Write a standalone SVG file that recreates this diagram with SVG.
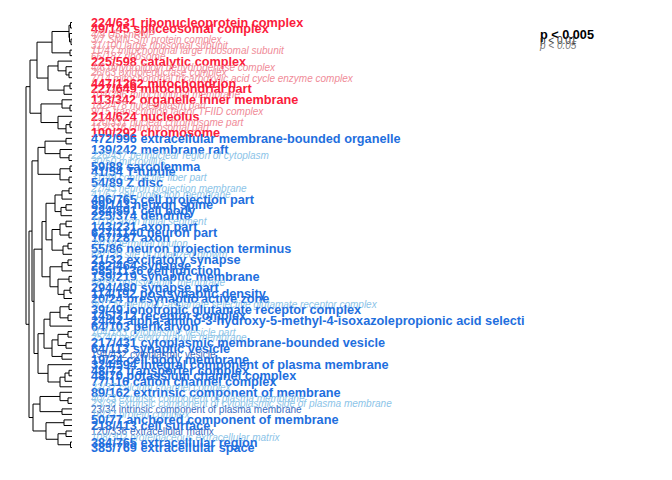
<svg xmlns="http://www.w3.org/2000/svg" width="672" height="480" viewBox="0 0 672 480">
<style>
text{font-family:"Liberation Sans",Arial,sans-serif;dominant-baseline:central}
.b{font-size:12.7px;font-weight:bold}
.i{font-size:10px;font-style:italic}
.p{font-size:10px}
.rb{fill:#fb1c3c}.ri{fill:#f08b98}
.bb{fill:#1f6fde}.bi{fill:#8cc4e8}.bp{fill:#3b6cc2}
#connectors path{fill:none;stroke:#000;stroke-width:1}
</style>
<rect width="672" height="480" fill="#fff"/>
<g id="connectors">
<path d="M72 22.5H70.5V28H72"/><path d="M72 39.1H71V44.6H72"/><path d="M72 33.5H69.5V41.85H71"/><path d="M70.5 25.25H69V37.68H69.5"/><path d="M72 50.1H70V55.6H72"/><path d="M69 31.47H52V52.85H70"/>
<path d="M72 72.2H69V77.7H72"/><path d="M72 66.7H66V74.95H69"/><path d="M72 61.1H58V70.83H66"/><path d="M72 83.2H70V88.7H72"/><path d="M70 85.95H64V94.3H72"/><path d="M58 65.97H48V90.13H64"/>
<path d="M52 42.16H37V78.05H48"/>
<path d="M72 105.3H70V110.8H72"/><path d="M72 99.8H62V108.05H70"/><path d="M72 121.9H70V127.4H72"/><path d="M70 124.65H66V132.9H72"/><path d="M72 116.3H58V128.78H66"/><path d="M62 103.93H41V122.54H58"/>
<path d="M37 60.1H30V113.23H41"/>
<path d="M72 138.4H66V143.9H72"/><path d="M72 155H69V160.5H72"/><path d="M72 149.5H60V157.75H69"/><path d="M66 141.15H45V153.63H60"/>
<path d="M72 166H70V171.5H72"/><path d="M72 177.1H69V182.6H72"/><path d="M70 168.75H60V179.85H69"/><path d="M45 147.39H38V174.3H60"/>
<path d="M72 188.1H69V193.6H72"/><path d="M69 190.85H62V199.1H72"/><path d="M72 204.7H66V210.2H72"/><path d="M66 207.45H61V215.7H72"/><path d="M62 194.98H55V211.58H61"/>
<path d="M72 221.2H66V226.7H72"/><path d="M72 232.3H69V237.8H72"/><path d="M66 223.95H60V235.05H69"/><path d="M72 243.3H68V248.8H72"/><path d="M68 246.05H63V254.3H72"/><path d="M60 229.5H52V250.18H63"/>
<path d="M55 203.28H46V239.84H52"/>
<path d="M72 259.9H68V265.4H72"/><path d="M68 262.65H62V270.9H72"/><path d="M72 276.4H69V281.9H72"/><path d="M72 287.5H70V293H72"/><path d="M70 290.25H64V298.5H72"/><path d="M69 279.15H58V294.38H64"/><path d="M62 266.78H50V286.77H58"/>
<path d="M46 221.56H42V276.78H50"/>
<path d="M72 304H69V309.5H72"/><path d="M72 315.1H68V320.6H72"/><path d="M69 306.75H60V317.85H68"/><path d="M60 312.3H50V326.1H72"/>
<path d="M72 331.6H68V337.1H72"/><path d="M72 342.7H66V348.2H72"/><path d="M68 334.35H58V345.45H66"/><path d="M72 353.7H62V359.2H72"/><path d="M58 339.9H52V356.45H62"/>
<path d="M50 319.2H44V348.18H52"/>
<path d="M72 370.3H69V375.8H72"/><path d="M69 373.05H65V381.3H72"/><path d="M65 377.18H60V386.8H72"/><path d="M72 364.7H48V381.99H60"/>
<path d="M44 333.69H38V373.35H48"/><path d="M42 249.17H34V353.52H38"/><path d="M38 160.85H32V301.35H34"/>
<path d="M72 397.9H68V403.4H72"/><path d="M72 392.3H60V400.65H68"/><path d="M72 408.9H62V414.4H72"/><path d="M60 396.48H40V411.65H62"/>
<path d="M72 419.9H64V425.5H72"/><path d="M72 431H66V436.5H72"/><path d="M72 442H70.5V447.5H72"/><path d="M66 433.75H58V444.75H70.5"/><path d="M64 422.7H46V439.25H58"/>
<path d="M40 404.07H33V430.98H46"/><path d="M32 231.1H29V417.53H33"/><path d="M30 86.67H26V324.32H29"/>
</g>
<g id="n0"><text class="b rb" x="91" y="23">224/631 ribonucleoprotein complex</text></g>
<g id="n1"><text class="b rb" x="91" y="28.5">49/145 spliceosomal complex</text></g>
<g id="n2"><text class="i ri" x="91" y="34">4/9 U5 snRNP</text></g>
<g id="n3"><text class="i ri" x="91" y="39.6">3/7 SMN-Sm protein complex</text></g>
<g id="n4"><text class="i ri" x="91" y="45.1">31/100 large ribosomal subunit</text></g>
<g id="n5"><text class="i ri" x="91" y="50.6">11/47 mitochondrial large ribosomal subunit</text></g>
<g id="n6"><text class="i ri" x="91" y="56.1">66/187 ribosome</text></g>
<g id="n7"><text class="b rb" x="91" y="61.6">225/598 catalytic complex</text></g>
<g id="n8"><text class="i ri" x="91" y="67.2">4/6 dihydrolipoyl dehydrogenase complex</text></g>
<g id="n9"><text class="i ri" x="91" y="72.7">26/63 oxidoreductase complex</text></g>
<g id="n10"><text class="i ri" x="91" y="78.2">7/14 mitochondrial tricarboxylic acid cycle enzyme complex</text></g>
<g id="n11"><text class="b rb" x="91" y="83.7">447/1262 mitochondrion</text></g>
<g id="n12"><text class="b rb" x="91" y="89.2">227/649 mitochondrial part</text></g>
<g id="n13"><text class="i ri" x="91" y="94.8">104/296 mitochondrial membrane</text></g>
<g id="n14"><text class="b rb" x="91" y="100.3">113/342 organelle inner membrane</text></g>
<g id="n15"><text class="i ri" x="91" y="105.8">182/478 nucleoplasm part</text></g>
<g id="n16"><text class="i ri" x="91" y="111.3">9/15 transcription factor TFIID complex</text></g>
<g id="n17"><text class="b rb" x="91" y="116.8">214/624 nucleolus</text></g>
<g id="n18"><text class="i ri" x="91" y="122.4">120/331 nuclear chromosome part</text></g>
<g id="n19"><text class="i ri" x="91" y="127.9">112/316 chromosomal part</text></g>
<g id="n20"><text class="b rb" x="91" y="133.4">100/292 chromosome</text></g>
<g id="n21"><text class="b bb" x="91" y="138.9">472/996 extracellular membrane-bounded organelle</text></g>
<g id="n23"><text class="b bb" x="91" y="150">139/242 membrane raft</text></g>
<g id="n24"><text class="i bi" x="91" y="155.5">226/437 perinuclear region of cytoplasm</text></g>
<g id="n25"><text class="i bi" x="91" y="161">30/50 microvillus</text></g>
<g id="n26"><text class="b bb" x="91" y="166.5">59/88 sarcolemma</text></g>
<g id="n27"><text class="b bb" x="91" y="172">41/54 T-tubule</text></g>
<g id="n28"><text class="i bi" x="91" y="177.6">31/49 contractile fiber part</text></g>
<g id="n29"><text class="b bb" x="91" y="183.1">54/89 Z disc</text></g>
<g id="n30"><text class="i bi" x="91" y="188.6">27/43 neuron projection membrane</text></g>
<g id="n31"><text class="i bi" x="91" y="194.1">41/67 cell projection membrane</text></g>
<g id="n32"><text class="b bb" x="91" y="199.6">406/765 cell projection part</text></g>
<g id="n33"><text class="b bb" x="91" y="205.2">89/143 neuron spine</text></g>
<g id="n34"><text class="b bb" x="91" y="210.7">284/591 cell body</text></g>
<g id="n35"><text class="b bb" x="91" y="216.2">225/374 dendrite</text></g>
<g id="n36"><text class="i bi" x="91" y="221.7">11/16 axon initial segment</text></g>
<g id="n37"><text class="b bb" x="91" y="227.2">143/231 axon part</text></g>
<g id="n38"><text class="b bb" x="91" y="232.8">627/1140 neuron part</text></g>
<g id="n39"><text class="b bb" x="91" y="238.3">167/287 axon</text></g>
<g id="n40"><text class="i bi" x="91" y="243.8">24/39 terminal bouton</text></g>
<g id="n41"><text class="b bb" x="91" y="249.3">55/86 neuron projection terminus</text></g>
<g id="n42"><text class="i bi" x="91" y="254.8">68/120 site of polarized growth</text></g>
<g id="n43"><text class="b bb" x="91" y="260.4">21/32 excitatory synapse</text></g>
<g id="n44"><text class="b bb" x="91" y="265.9">282/464 synapse</text></g>
<g id="n45"><text class="b bb" x="91" y="271.4">585/1136 cell junction</text></g>
<g id="n46"><text class="b bb" x="91" y="276.9">139/219 synaptic membrane</text></g>
<g id="n47"><text class="i bi" x="91" y="282.4">58/95 postsynaptic membrane</text></g>
<g id="n48"><text class="b bb" x="91" y="288">294/480 synapse part</text></g>
<g id="n49"><text class="b bb" x="91" y="293.5">114/192 postsynaptic density</text></g>
<g id="n50"><text class="b bb" x="91" y="299">20/24 presynaptic active zone</text></g>
<g id="n51"><text class="i bi" x="91" y="304.5">9/12 N-methyl-D-aspartate selective glutamate receptor complex</text></g>
<g id="n52"><text class="b bb" x="91" y="310">39/49 ionotropic glutamate receptor complex</text></g>
<g id="n53"><text class="b bb" x="91" y="315.6">145/312 receptor complex</text></g>
<g id="n54"><text class="b bb" x="91" y="321.1">24/42 alpha-amino-3-hydroxy-5-methyl-4-isoxazolepropionic acid selecti</text></g>
<g id="n55"><text class="b bb" x="91" y="326.6">64/103 perikaryon</text></g>
<g id="n56"><text class="i bi" x="91" y="332.1">104/183 cytoplasmic vesicle part</text></g>
<g id="n57"><text class="i bi" x="91" y="337.6">25/40 secretory granule membrane</text></g>
<g id="n58"><text class="b bb" x="91" y="343.2">217/431 cytoplasmic membrane-bounded vesicle</text></g>
<g id="n59"><text class="b bb" x="91" y="348.7">64/113 synaptic vesicle</text></g>
<g id="n60"><text class="p bp" x="91" y="354.2">194/432 cytoplasmic vesicle</text></g>
<g id="n61"><text class="b bb" x="91" y="359.7">19/24 cell body membrane</text></g>
<g id="n62"><text class="b bb" x="91" y="365.2">324/594 integral component of plasma membrane</text></g>
<g id="n63"><text class="b bb" x="91" y="370.8">48/72 transporter complex</text></g>
<g id="n64"><text class="b bb" x="91" y="376.3">48/70 potassium channel complex</text></g>
<g id="n65"><text class="b bb" x="91" y="381.8">77/116 cation channel complex</text></g>
<g id="n66"><text class="i bi" x="91" y="387.3">22/37 calcium channel complex</text></g>
<g id="n67"><text class="b bb" x="91" y="392.8">89/162 extrinsic component of membrane</text></g>
<g id="n68"><text class="i bi" x="91" y="398.4">40/73 extrinsic component of plasma membrane</text></g>
<g id="n69"><text class="i bi" x="91" y="403.9">23/38 extrinsic component of cytoplasmic side of plasma membrane</text></g>
<g id="n70"><text class="p bp" x="91" y="409.4">23/34 intrinsic component of plasma membrane</text></g>
<g id="n71"><text class="i bi" x="91" y="414.9">16/22 protein complex</text></g>
<g id="n72"><text class="b bb" x="91" y="420.4">50/77 anchored component of membrane</text></g>
<g id="n73"><text class="b bb" x="91" y="426">218/413 cell surface</text></g>
<g id="n74"><text class="p bp" x="91" y="431.5">120/336 extracellular matrix</text></g>
<g id="n75"><text class="i bi" x="91" y="437">108/302 proteinaceous extracellular matrix</text></g>
<g id="n76"><text class="b bb" x="91" y="442.5">384/765 extracellular region</text></g>
<g id="n77"><text class="b bb" x="91" y="448">385/769 extracellular space</text></g>
<g id="legend">
<text class="b" x="540" y="35" fill="#000">p &lt; 0.005</text>
<text class="p" x="540" y="40.5" fill="#333">p &lt; 0.01</text>
<text class="i" x="540" y="45" fill="#777">p &lt; 0.05</text>
</g>
</svg>
